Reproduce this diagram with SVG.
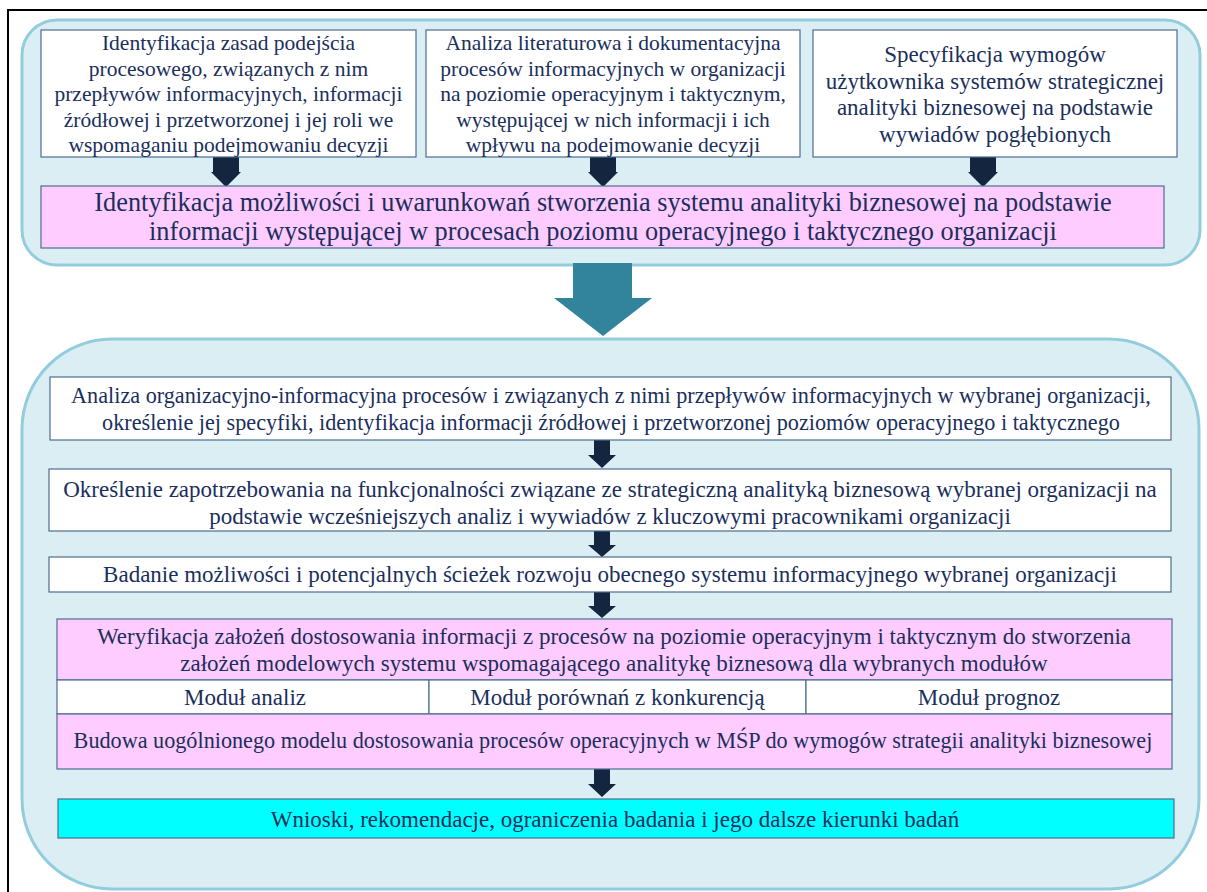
<svg xmlns="http://www.w3.org/2000/svg" width="1207" height="892" viewBox="0 0 1207 892">
<style>
.cont{fill:#daeef3;stroke:#93cddd;stroke-width:3}
.box{fill:#ffffff;stroke:#4f6d8f;stroke-width:1.2}
.pink{fill:#ffccff;stroke:#4f6d8f;stroke-width:1.2}
.cyan{fill:#00ffff;stroke:#4f6d8f;stroke-width:1.2}
text{font-family:"Liberation Serif","Times New Roman",serif;fill:#1b2f5c;text-anchor:middle}
.t21{font-size:21.5px}
.t23b{font-size:23px}
.t26{font-size:26.3px}
.t22{font-size:22.2px}
.t23{font-size:23px}
.arr{fill:#13253f}
.big{fill:#31849b}
</style>
<rect x="0" y="0" width="1207" height="892" fill="#ffffff"/>
<path d="M8,892 V10 H1207" fill="none" stroke="#000000" stroke-width="2"/>

<g id="top-container">
<rect class="cont" x="22" y="20" width="1178" height="245" rx="35" ry="35"/>
</g>
<g id="bottom-container">
<rect class="cont" x="22" y="339" width="1177" height="550" rx="90" ry="90"/>
</g>

<g id="connectors">
<polygon class="arr" points="213,157 239,157 239,172 241,172 226,187 211,172 213,172"/>
<polygon class="arr" points="590,157 616,157 616,172 618,172 603,187 588,172 590,172"/>
<polygon class="arr" points="970,157 996,157 996,172 998,172 983,187 968,172 970,172"/>
<polygon class="big" points="573,263 632,263 632,298 652,298 603,336 554,298 573,298"/>
<polygon class="arr" points="594,440 610,440 610,455 616,455 602,468 588,455 594,455"/>
<polygon class="arr" points="594,531 610,531 610,545 616,545 602,557 588,545 594,545"/>
<polygon class="arr" points="594,592 610,592 610,606 616,606 602,618 588,606 594,606"/>
<polygon class="arr" points="594,769 610,769 610,784 616,784 602,797 588,784 594,784"/>
</g>

<g id="n1">
<rect class="box" x="41" y="30" width="375" height="127"/>
<text class="t21" x="228.5"><tspan x="228.5" y="50">Identyfikacja zasad podejścia</tspan><tspan x="228.5" y="75.5">procesowego, związanych z nim</tspan><tspan x="228.5" y="101">przepływów informacyjnych, informacji</tspan><tspan x="228.5" y="126.5">źródłowej i przetworzonej i jej roli we</tspan><tspan x="228.5" y="152">wspomaganiu podejmowaniu decyzji</tspan></text>
</g>
<g id="n2">
<rect class="box" x="426" y="30" width="374" height="127"/>
<text class="t21" x="613"><tspan x="613" y="50">Analiza literaturowa i dokumentacyjna</tspan><tspan x="613" y="75.5">procesów informacyjnych w organizacji</tspan><tspan x="613" y="101">na poziomie operacyjnym i taktycznym,</tspan><tspan x="613" y="126.5">występującej w nich informacji i ich</tspan><tspan x="613" y="152">wpływu na podejmowanie decyzji</tspan></text>
</g>
<g id="n3">
<rect class="box" x="813" y="30" width="364" height="127"/>
<text class="t23b" x="995"><tspan x="995" y="62">Specyfikacja wymogów</tspan><tspan x="995" y="88.5">użytkownika systemów strategicznej</tspan><tspan x="995" y="115">analityki biznesowej na podstawie</tspan><tspan x="995" y="141.5">wywiadów pogłębionych</tspan></text>
</g>
<g id="n4">
<rect class="pink" x="41" y="186" width="1123" height="62"/>
<text class="t26" x="603"><tspan x="603" y="211">Identyfikacja możliwości i uwarunkowań stworzenia systemu analityki biznesowej na podstawie</tspan><tspan x="603" y="239.5">informacji występującej w procesach poziomu operacyjnego i taktycznego organizacji</tspan></text>
</g>

<g id="n5">
<rect class="box" x="50" y="377" width="1121" height="63"/>
<text class="t22" x="611"><tspan x="611" y="403">Analiza organizacyjno-informacyjna procesów i związanych z nimi przepływów informacyjnych w wybranej organizacji,</tspan><tspan x="611" y="430">określenie jej specyfiki, identyfikacja informacji źródłowej i przetworzonej poziomów operacyjnego i taktycznego</tspan></text>
</g>
<g id="n6">
<rect class="box" x="49" y="469" width="1122" height="62"/>
<text class="t23" x="610"><tspan x="610" y="497">Określenie zapotrzebowania na funkcjonalności związane ze strategiczną analityką biznesową wybranej organizacji na</tspan><tspan x="610" y="524">podstawie wcześniejszych analiz i wywiadów z kluczowymi pracownikami organizacji</tspan></text>
</g>
<g id="n7">
<rect class="box" x="49" y="557" width="1122" height="35"/>
<text class="t23" x="610" y="582">Badanie możliwości i potencjalnych ścieżek rozwoju obecnego systemu informacyjnego wybranej organizacji</text>
</g>
<g id="n8">
<rect class="pink" x="57" y="619" width="1115" height="61"/>
<text class="t23" x="614"><tspan x="614" y="644">Weryfikacja założeń dostosowania informacji z procesów na poziomie operacyjnym i taktycznym do stworzenia</tspan><tspan x="614" y="671">założeń modelowych systemu wspomagającego analitykę biznesową dla wybranych modułów</tspan></text>
</g>
<g id="m1">
<rect class="box" x="57" y="680" width="372" height="34"/>
<text class="t23" x="245" y="705">Moduł analiz</text>
</g>
<g id="m2">
<rect class="box" x="429" y="680" width="377" height="34"/>
<text class="t23" x="617.5" y="705">Moduł porównań z konkurencją</text>
</g>
<g id="m3">
<rect class="box" x="806" y="680" width="366" height="34"/>
<text class="t23" x="989" y="705">Moduł prognoz</text>
</g>
<g id="n9">
<rect class="pink" x="57" y="714" width="1115" height="55"/>
<text class="t22" x="613" y="748">Budowa uogólnionego modelu dostosowania procesów operacyjnych w MŚP do wymogów strategii analityki biznesowej</text>
</g>
<g id="n10">
<rect class="cyan" x="58" y="799" width="1116" height="39"/>
<text class="t23" x="615" y="827">Wnioski, rekomendacje, ograniczenia badania i jego dalsze kierunki badań</text>
</g>
</svg>
